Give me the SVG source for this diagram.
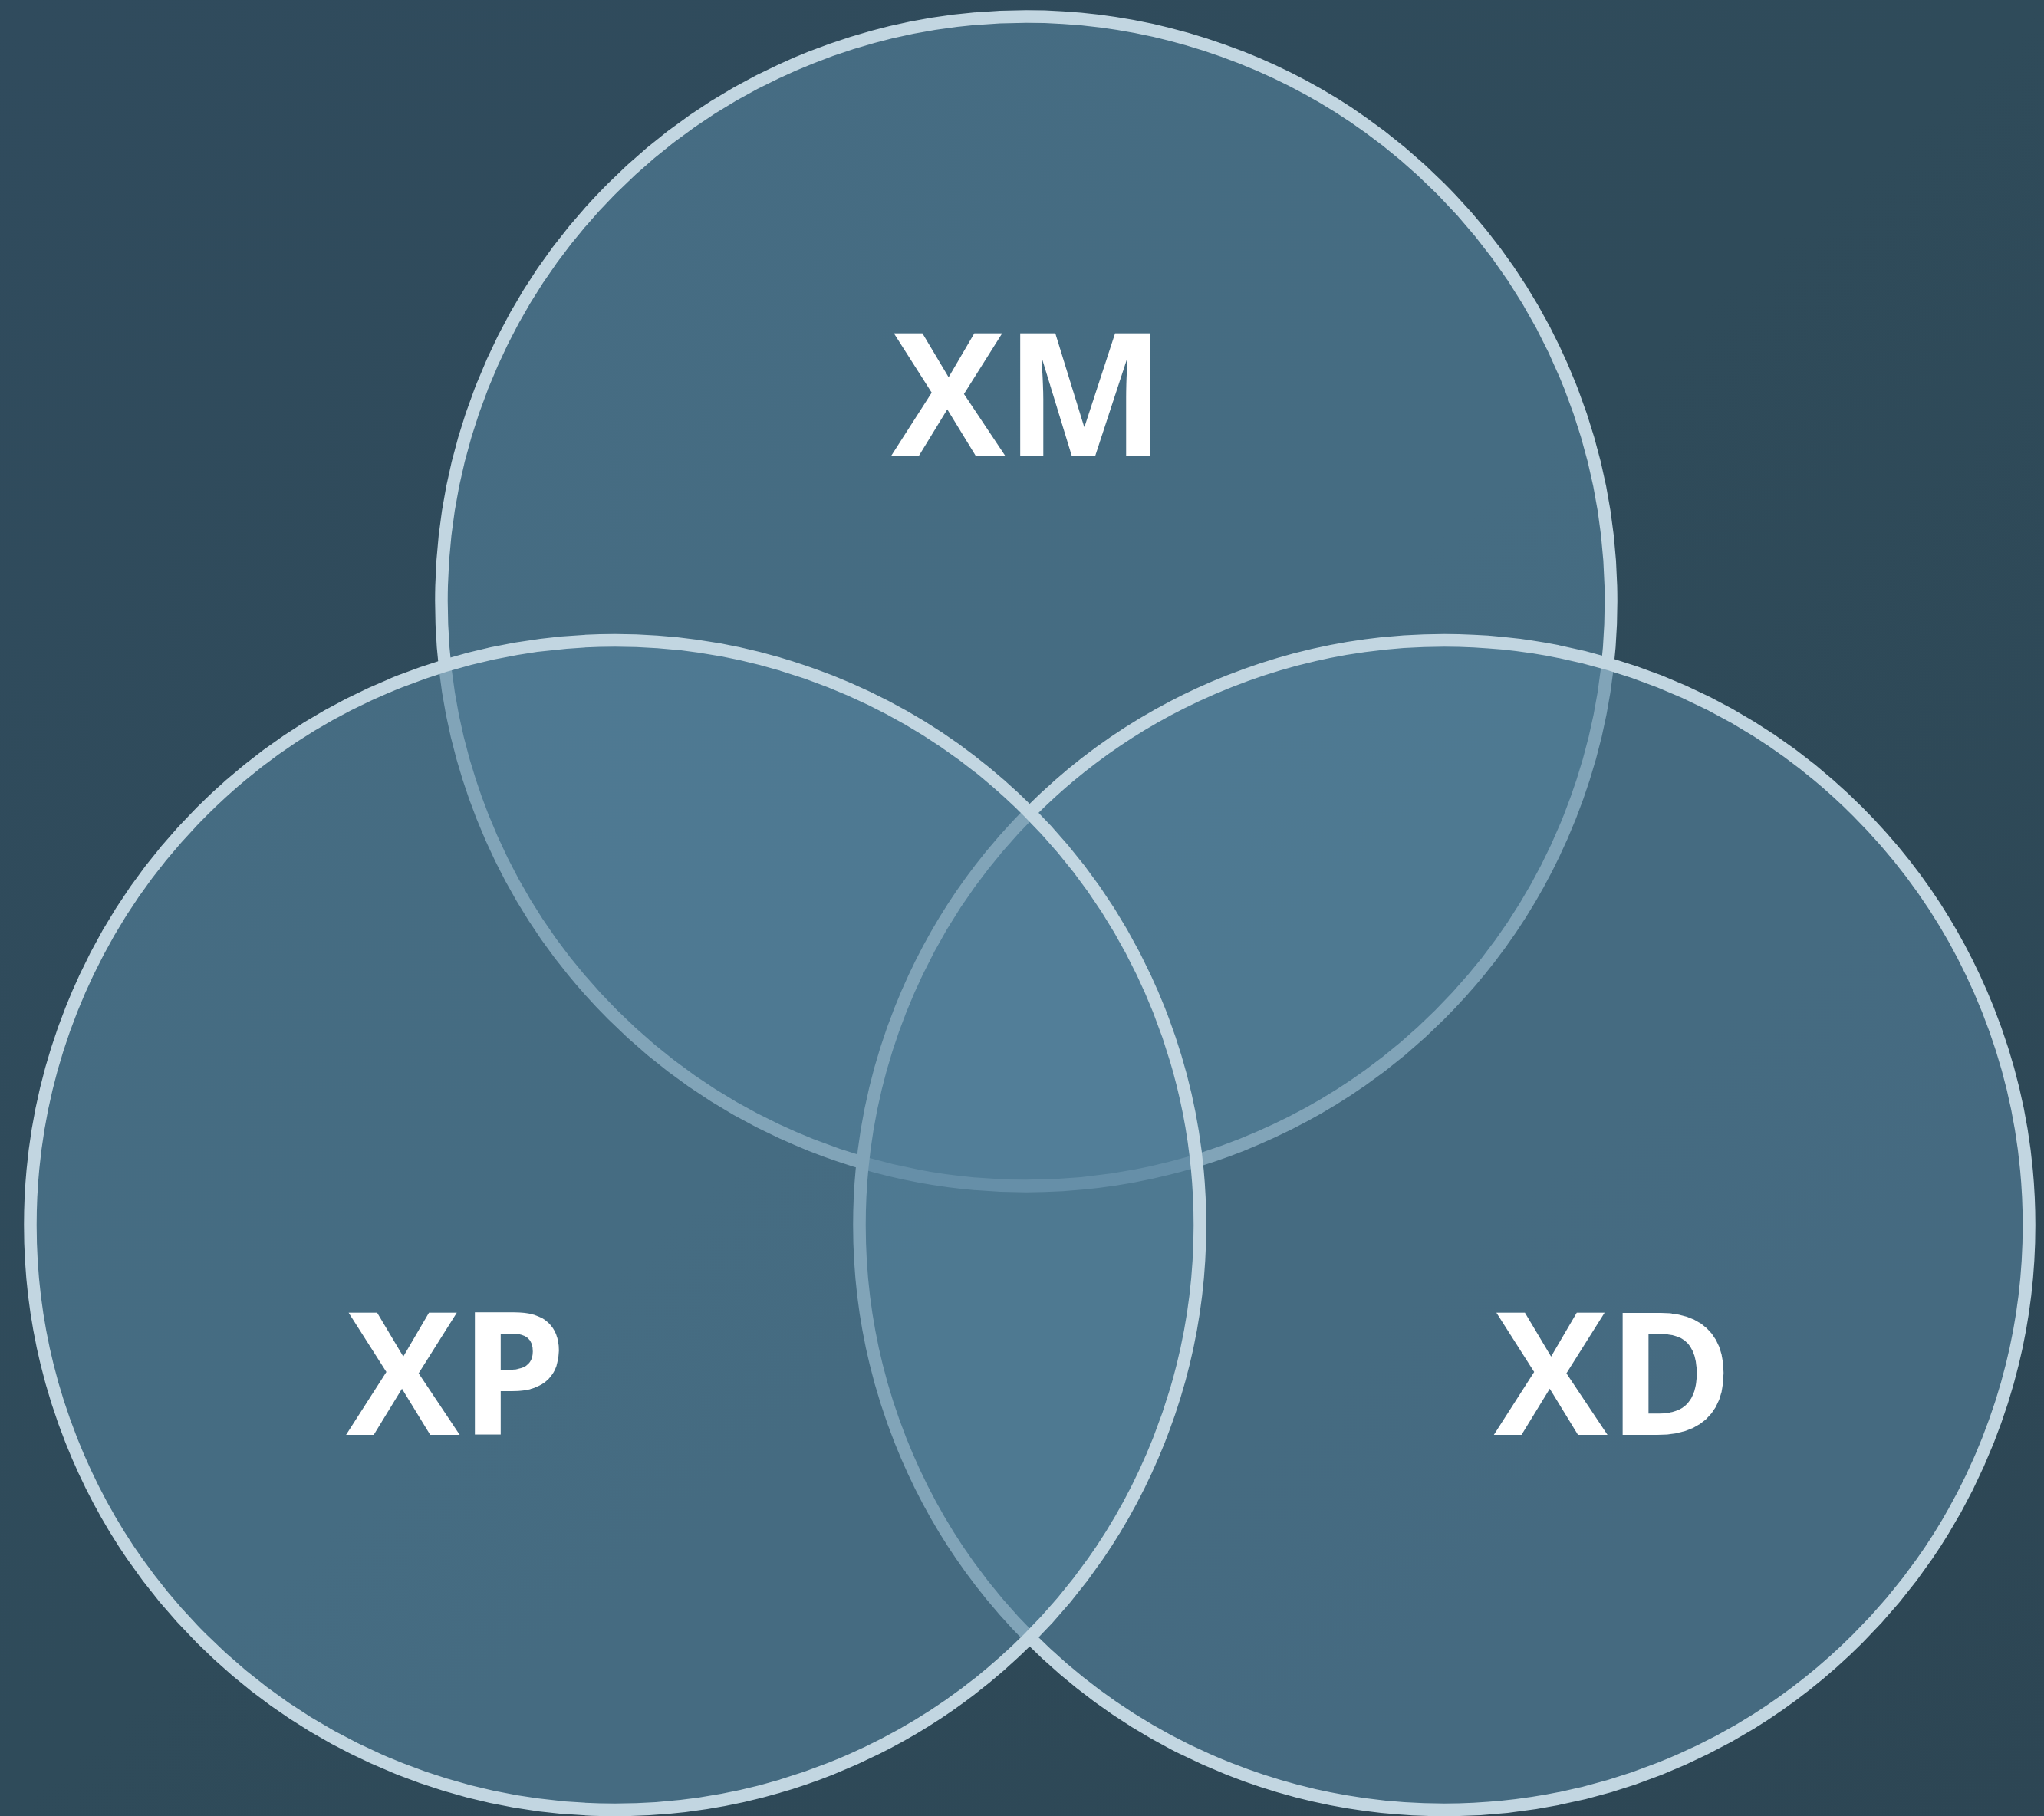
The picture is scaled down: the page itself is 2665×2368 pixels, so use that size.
<svg xmlns="http://www.w3.org/2000/svg" width="2665" height="2368" viewBox="0 0 2665 2368">
  <defs>
    <linearGradient id="bg" x1="0" y1="0" x2="1" y2="1">
      <stop offset="0" stop-color="#304b5d"/>
      <stop offset="0.5" stop-color="#2f4b5a"/>
      <stop offset="1" stop-color="#2d4654"/>
    </linearGradient>
  </defs>
  <style>
    .set { fill: #55829c; fill-opacity: 0.6; stroke: #c2d6e1; stroke-width: 16.5; }
    .lbl { font-family: "Open Sans", "Noto Sans", "Liberation Sans", sans-serif; font-weight: 700; font-size: 222px; fill: #ffffff; text-anchor: middle; }
  </style>
  <rect x="0" y="0" width="2665" height="2368" fill="url(#bg)"/>
  <g id="node-xm">
    <circle class="set" cx="1338" cy="784" r="762.5"/>
    <text class="lbl" x="1341" y="594">XM</text>
  </g>
  <g id="node-xd">
    <circle class="set" cx="1883" cy="1597.5" r="762.5"/>
    <text class="lbl" x="2104" y="1871">XD</text>
  </g>
  <g id="node-xp">
    <circle class="set" cx="802" cy="1597.5" r="762.5"/>
    <text class="lbl" x="595" y="1871">XP</text>
  </g>
  <g id="connectors"></g>
</svg>
